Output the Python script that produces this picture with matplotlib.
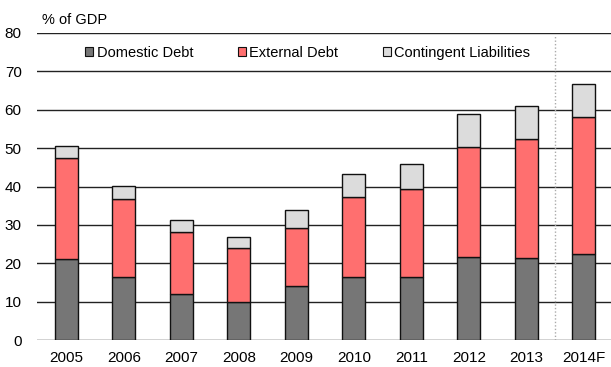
import matplotlib
matplotlib.use("Agg")
import matplotlib.pyplot as plt
from matplotlib.patches import Patch
import numpy as np

plt.rcParams['font.family'] = ['Liberation Sans', 'DejaVu Sans']

years = ["2005", "2006", "2007", "2008", "2009", "2010", "2011", "2012", "2013", "2014F"]
domestic = [21.0, 16.5, 12.1, 9.8, 14.0, 16.3, 16.3, 21.5, 21.4, 22.5]
external = [26.3, 20.3, 16.0, 14.2, 15.3, 21.0, 23.0, 28.8, 31.1, 35.5]
contingent = [3.3, 3.3, 3.1, 2.9, 4.7, 6.0, 6.6, 8.7, 8.6, 8.8]

series_names = ["Domestic Debt", "External Debt", "Contingent Liabilities"]
colors = ["#767676", "#FF6F6F", "#DCDCDC"]

W, H = 611, 367
fig = plt.figure(figsize=(W / 100, H / 100), dpi=100)
ax = fig.add_axes([37 / W, 1 - 340 / H, 575 / W, 307 / H])

x = np.arange(len(years))
bar_w = 23 / 57.5
bottom = np.zeros(len(years))
for vals, col in zip([domestic, external, contingent], colors):
    ax.bar(x, vals, bar_w, bottom=bottom, color=col, edgecolor="#111111",
           linewidth=1.0, zorder=3)
    bottom = bottom + np.array(vals)

ax.set_xlim(-0.513, 9.487)
ax.set_ylim(0, 80)
ax.set_yticks(range(0, 81, 10))
ax.set_xticks(x)
ax.set_xticklabels(years)
ax.tick_params(axis="both", length=0, labelsize=11, colors="black")
ax.tick_params(axis="y", pad=11)
ax.tick_params(axis="x", pad=8)
for s in ax.spines.values():
    s.set_visible(False)
ax.grid(axis="y", color="#222222", linewidth=1.0, zorder=1)
ax.set_axisbelow(True)

# forecast separator
ax.plot([8.5, 8.5], [0, 79.5], linestyle=(0, (1, 1.5)), color="#AAAAAA",
        linewidth=1.0, zorder=2)

fig.text(42 / W, 1 - 20 / H, "% of GDP", fontsize=10.5, va="center", ha="left")

handles = [Patch(facecolor=c, edgecolor="#111111", linewidth=0.8) for c in colors]
leg = ax.legend(handles, series_names, ncol=3, frameon=False, fontsize=10.5,
                loc="center left", bbox_to_anchor=(85 / W, 1 - 53 / H),
                bbox_transform=fig.transFigure, handlelength=0.55,
                handleheight=0.55, handletextpad=0.25, columnspacing=3.05,
                borderaxespad=0, borderpad=0)

fig.savefig("out.png", dpi=100)
